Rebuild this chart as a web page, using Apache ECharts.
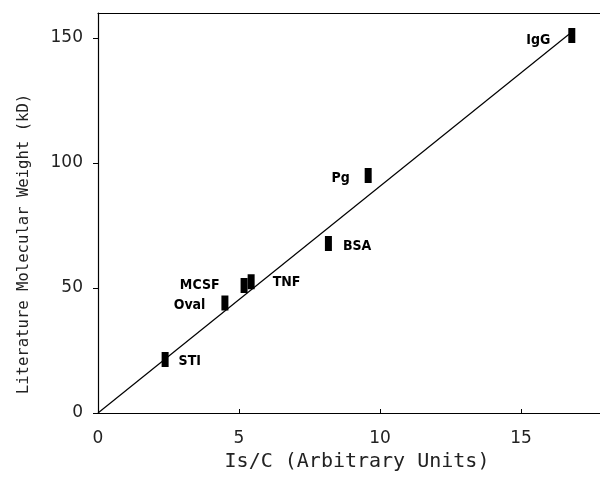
<!DOCTYPE html>
<html>
<head>
<meta charset="utf-8">
<script src="https://cdn.jsdelivr.net/npm/echarts@6/dist/echarts.min.js"></script>
<style>html,body{margin:0;padding:0;background:#fff}#c{width:600px;height:477px}</style>
</head>
<body>
<div id="c"></div>
<script>
const proteins = ['STI', 'Oval', 'MCSF', 'TNF', 'BSA', 'Pg', 'IgG'];
const isOverC = [2.38, 4.5, 5.18, 5.43, 8.17, 9.58, 16.8];
const molWeight = [21.4, 44, 51, 52.5, 67.8, 95, 151];
const labelSide = ['right', 'left', 'left', 'right', 'right', 'left', 'left'];
const fitX = [0, 16.7];
const fitY = [0, 151.5];
const xTicks = [0, 5, 10, 15];
const yTicks = [0, 50, 100, 150];

const labelCfg = {
  STI: {distance: 10, offset: [0, 2]},
  Oval: {distance: 16, offset: [0, 2]},
  MCSF: {distance: 21, offset: [0, 0]},
  TNF: {distance: 18, offset: [0, 1]},
  BSA: {distance: 11, offset: [0, 3]},
  Pg: {distance: 15, offset: [0, 3]},
  IgG: {distance: 18, offset: [0, 5]}
};

const points = proteins.map((p, i) => ({
  value: [isOverC[i], molWeight[i]],
  label: {
    show: true,
    formatter: p,
    position: labelSide[i],
    distance: labelCfg[p].distance,
    offset: labelCfg[p].offset,
    fontFamily: '"Liberation Sans Narrow", "DejaVu Sans Condensed", "Liberation Sans", sans-serif',
    fontSize: 14,
    fontWeight: 'bold',
    color: '#000',
    opacity: 1
  }
}));

const chart = echarts.init(document.getElementById('c'), null, {renderer: 'canvas'});
const axisFont = '"DejaVu Sans", sans-serif';
const titleFont = '"DejaVu Sans Mono", monospace';
chart.setOption({
  animation: false,
  backgroundColor: '#fff',
  grid: {left: 98, right: 0, top: 13, bottom: 64},
  xAxis: [{
    type: 'value', min: 0, max: 17.8, interval: 5,
    position: 'bottom',
    name: 'Is/C (Arbitrary Units)',
    nameLocation: 'middle', nameGap: 37,
    nameTextStyle: {fontFamily: titleFont, fontSize: 20, color: '#222', padding: [0, 0, 0, 16]},
    axisLine: {lineStyle: {color: '#000', width: 1.2}},
    axisTick: {inside: true, length: 4, lineStyle: {color: '#000'}, customValues: xTicks},
    axisLabel: {
      margin: 17, fontFamily: axisFont, fontSize: 17, color: '#222',
      customValues: xTicks
    },
    splitLine: {show: false}
  }, {
    type: 'value', min: 0, max: 17.8, position: 'top',
    axisLine: {show: true, lineStyle: {color: '#000', width: 1.2}},
    axisTick: {show: false}, axisLabel: {show: false}, splitLine: {show: false}
  }],
  yAxis: [{
    type: 'value', min: 0, max: 160, interval: 50,
    name: 'Literature Molecular Weight (kD)',
    nameLocation: 'middle', nameGap: 66, nameRotate: 90,
    nameTextStyle: {fontFamily: titleFont, fontSize: 15.6, color: '#222', padding: [0, 62, 0, 0]},
    axisLine: {show: true, lineStyle: {color: '#000', width: 1.2}},
    axisTick: {show: true, inside: false, length: 5, lineStyle: {color: '#000'}, customValues: yTicks},
    axisLabel: {
      margin: 15, fontFamily: axisFont, fontSize: 17, color: '#222',
      customValues: yTicks
    },
    splitLine: {show: false}
  }],
  series: [{
    type: 'line',
    data: fitX.map((x, i) => [x, fitY[i]]),
    showSymbol: false,
    lineStyle: {color: '#000', width: 1.2},
    silent: true,
    z: 2
  }, {
    type: 'scatter',
    data: points,
    symbol: 'rect',
    symbolSize: [7, 15],
    itemStyle: {color: '#000', opacity: 1},
    z: 3
  }]
});
</script>
</body>
</html>
